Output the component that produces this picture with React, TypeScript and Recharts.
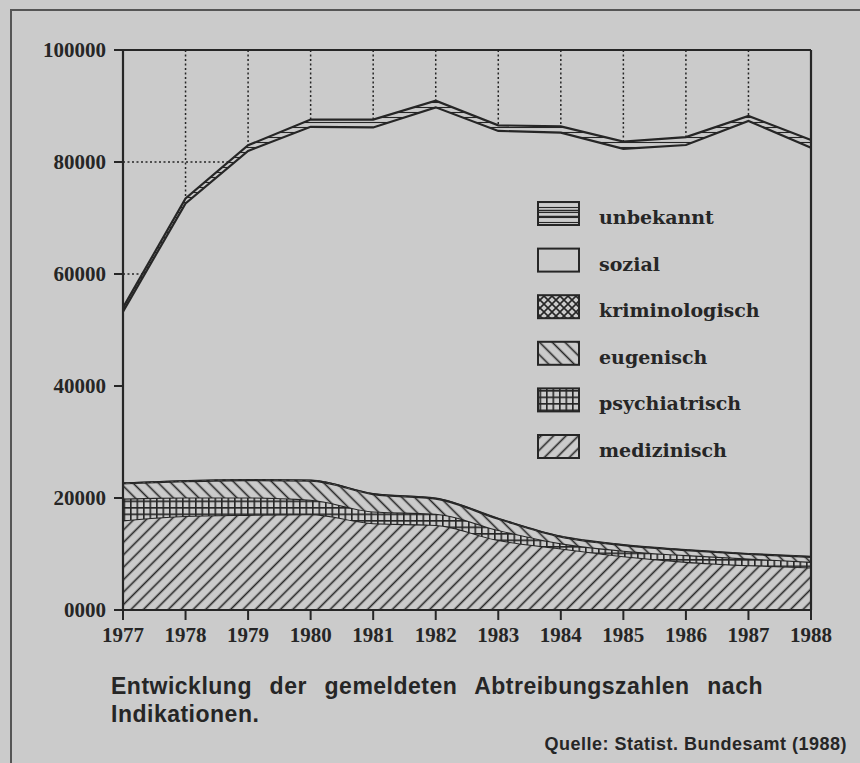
import React from "react";
import { AreaChart, Area, XAxis, YAxis, CartesianGrid, ReferenceLine } from "recharts";

const years = [1977, 1978, 1979, 1980, 1981, 1982, 1983, 1984, 1985, 1986, 1987, 1988];
const medizinisch = [16000, 16800, 17000, 17100, 15500, 15200, 12500, 11000, 9600, 8600, 8000, 7600];
const psychiatrisch = [3900, 3300, 3100, 2600, 2100, 2000, 1800, 900, 1000, 1200, 1200, 1000];
const eugenisch = [2700, 2900, 3100, 3400, 3100, 2700, 2000, 1200, 1000, 900, 800, 900];
const kriminologisch = [90, 100, 90, 80, 70, 60, 50, 50, 40, 40, 40, 40];
const sozial = [30600, 49500, 58700, 63100, 65400, 69800, 69200, 72100, 70700, 72300, 77300, 73000];
const unbekannt = [700, 900, 1000, 1300, 1400, 1200, 1000, 1100, 1300, 1400, 900, 1400];

const yTicks = [0, 20000, 40000, 60000, 80000, 100000];
const yTickLabels = ["0000", "20000", "40000", "60000", "80000", "100000"];
const legendLabels = ["unbekannt", "sozial", "kriminologisch", "eugenisch", "psychiatrisch", "medizinisch"];
const legendFills = ["unb", "soz", "krim", "eug", "psych", "med"];
const captionText = "Entwicklung der gemeldeten Abtreibungszahlen nach Indikationen.";
const sourceText = "Quelle: Statist. Bundesamt (1988)";

const data = years.map((year, i) => {
  const lower = medizinisch[i] + psychiatrisch[i] + eugenisch[i] + kriminologisch[i];
  return {
    year,
    medizinisch: medizinisch[i],
    psychiatrisch: psychiatrisch[i],
    eugenisch: eugenisch[i],
    kriminologisch: kriminologisch[i],
    sozialTop: lower + sozial[i],
    gesamt: lower + sozial[i] + unbekannt[i],
  };
});

const BG = "#cbcbcb";
const INK = "#262626";
const tickStyle = { fill: INK, fontSize: 21, fontFamily: "'Liberation Serif', serif", fontWeight: 700 };

function Patterns() {
  return (
    <svg width={0} height={0} style={{ position: "absolute" }}>
      <defs>
        <pattern id="p-med" patternUnits="userSpaceOnUse" width={8.8} height={8.8} patternTransform="rotate(45)">
          <rect width={8.8} height={8.8} fill={BG} />
          <line x1={4.4} y1={0} x2={4.4} y2={8.8} stroke={INK} strokeWidth={1.6} />
        </pattern>
        <pattern id="p-eug" patternUnits="userSpaceOnUse" width={9} height={9} patternTransform="rotate(-45)">
          <rect width={9} height={9} fill={BG} />
          <line x1={4.5} y1={0} x2={4.5} y2={9} stroke={INK} strokeWidth={1.6} />
        </pattern>
        <pattern id="p-psych" patternUnits="userSpaceOnUse" width={6.5} height={6.5}>
          <rect width={6.5} height={6.5} fill={BG} />
          <path d="M0,0.8 H6.5 M0.8,0 V6.5" stroke={INK} strokeWidth={1.6} />
        </pattern>
        <pattern id="p-krim" patternUnits="userSpaceOnUse" width={8} height={8}>
          <rect width={8} height={8} fill={BG} />
          <path d="M0,0 L8,8 M8,0 L0,8" stroke={INK} strokeWidth={1.6} />
        </pattern>
        <pattern id="p-unb" patternUnits="userSpaceOnUse" width={8} height={5}>
          <rect width={8} height={5} fill={BG} />
          <line x1={0} y1={2.5} x2={8} y2={2.5} stroke={INK} strokeWidth={1.1} />
        </pattern>
        <pattern id="p-soz" patternUnits="userSpaceOnUse" width={8} height={8}>
          <rect width={8} height={8} fill={BG} />
        </pattern>
      </defs>
    </svg>
  );
}

function LegendOverlay() {
  const x0 = 538;
  const y0 = 202;
  const step = 46.6;
  return (
    <svg width={860} height={763} style={{ position: "absolute", left: 0, top: 0, pointerEvents: "none" }}>
      {legendLabels.map((label, i) => {
        const y = y0 + i * step;
        return (
          <g key={label}>
            <rect x={x0} y={y} width={41} height={23} fill={`url(#p-${legendFills[i]})`} stroke={INK} strokeWidth={2} />
            {legendFills[i] === "unb" && (
              <g stroke={INK} strokeWidth={1.6}>
                <line x1={x0} y1={y + 8.5} x2={x0 + 41} y2={y + 8.5} />
                <line x1={x0} y1={y + 14.5} x2={x0 + 41} y2={y + 14.5} />
              </g>
            )}
            <text x={599} y={y + 22} fill={INK} fontSize={19} fontWeight={700} fontFamily="'DejaVu Serif', serif">
              {label}
            </text>
          </g>
        );
      })}
    </svg>
  );
}

export default function App() {
  return (
    <div style={{ position: "relative", width: 860, height: 763, background: BG, overflow: "hidden" }}>
      <style>{`body{margin:0;}`}</style>
      <Patterns />
      <div style={{ position: "absolute", left: 10, top: 9, width: 900, height: 900, borderLeft: "2px solid #555", borderTop: "2px solid #555" }} />
      <div style={{ position: "absolute", left: 0, top: 0 }}>
        <AreaChart width={860} height={660} data={data} margin={{ top: 50, right: 49, bottom: 20, left: 43 }}>
          <CartesianGrid stroke={INK} strokeWidth={1.5} strokeDasharray="2 2.5" />
          <XAxis
            dataKey="year"
            type="number"
            domain={[1977, 1988]}
            ticks={years}
            interval={0}
            height={30}
            tickSize={10}
            tickMargin={7}
            axisLine={{ stroke: INK, strokeWidth: 2.2 }}
            tickLine={{ stroke: INK, strokeWidth: 2 }}
            tick={tickStyle}
          />
          <YAxis
            type="number"
            domain={[0, 100000]}
            ticks={yTicks}
            interval={0}
            width={80}
            tickSize={9}
            tickMargin={8}
            tickFormatter={(v: number) => yTickLabels[yTicks.indexOf(v)]}
            axisLine={{ stroke: INK, strokeWidth: 2.2 }}
            tickLine={{ stroke: INK, strokeWidth: 2 }}
            tick={tickStyle}
          />
          <Area type="linear" dataKey="gesamt" fill="url(#p-unb)" fillOpacity={1} stroke={INK} strokeWidth={2.2} isAnimationActive={false} dot={false} activeDot={false} />
          <Area type="linear" dataKey="sozialTop" fill={BG} fillOpacity={1} stroke={INK} strokeWidth={2.2} isAnimationActive={false} dot={false} activeDot={false} />
          <Area type="monotone" stackId="s" dataKey="medizinisch" fill="url(#p-med)" fillOpacity={1} stroke={INK} strokeWidth={2.2} isAnimationActive={false} dot={false} activeDot={false} />
          <Area type="monotone" stackId="s" dataKey="psychiatrisch" fill="url(#p-psych)" fillOpacity={1} stroke={INK} strokeWidth={2.2} isAnimationActive={false} dot={false} activeDot={false} />
          <Area type="monotone" stackId="s" dataKey="eugenisch" fill="url(#p-eug)" fillOpacity={1} stroke={INK} strokeWidth={2.2} isAnimationActive={false} dot={false} activeDot={false} />
          <Area type="monotone" stackId="s" dataKey="kriminologisch" fill="url(#p-krim)" fillOpacity={1} stroke={INK} strokeWidth={1} isAnimationActive={false} dot={false} activeDot={false} />
          <ReferenceLine y={100000} stroke={INK} strokeWidth={2.2} />
          <ReferenceLine x={1988} stroke={INK} strokeWidth={2.2} />
        </AreaChart>
      </div>
      <LegendOverlay />
      <div
        style={{
          position: "absolute",
          left: 111,
          top: 672,
          width: 652,
          fontFamily: "'Liberation Sans', Arial, sans-serif",
          fontWeight: 700,
          fontSize: 23,
          letterSpacing: "0.5px",
          lineHeight: "28px",
          textAlign: "justify",
          color: INK,
        }}
      >
        {captionText}
      </div>
      <div
        style={{
          position: "absolute",
          right: 13,
          top: 734,
          fontFamily: "'Liberation Sans', Arial, sans-serif",
          fontWeight: 700,
          fontSize: 18,
          letterSpacing: "0.5px",
          lineHeight: "20px",
          color: INK,
          whiteSpace: "nowrap",
        }}
      >
        {sourceText}
      </div>
    </div>
  );
}
